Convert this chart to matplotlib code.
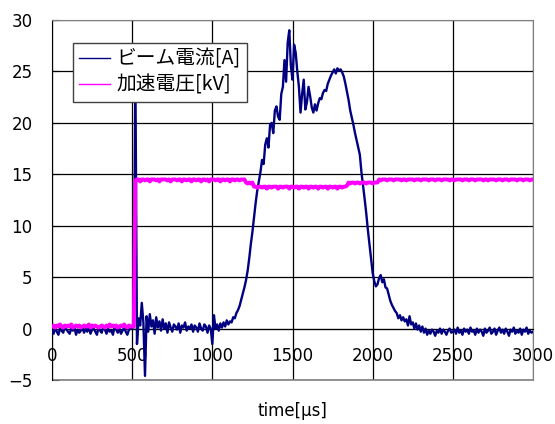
import numpy as np
import matplotlib as mpl
mpl.use('Agg')
import matplotlib.pyplot as plt
from matplotlib.patches import Rectangle

# Global style
mpl.rcParams['font.family'] = ['Noto Sans CJK JP', 'DejaVu Sans']
mpl.rcParams['font.size'] = 12
mpl.rcParams['axes.unicode_minus'] = True

colors = ['#000080', '#ff00ff']

# time axis: one sample every 10 us, 0..3000
time_us = np.arange(0, 3001, 10)

# beam current [A] (one row = 100 us)
beam_current = [
    -0.2, -0.5, 0.1, -0.3, -0.6, 0.0, -0.2, -0.4, 0.2, -0.1,      # 0
    -0.3, -0.5, 0.0, -0.2, 0.1, -0.6, -0.1, -0.4, -0.2, 0.1,      # 100
    -0.4, 0.0, -0.3, 0.2, -0.5, -0.1, 0.0, -0.3, -0.6, 0.1,       # 200
    -0.2, -0.4, 0.2, -0.1, -0.5, 0.0, -0.3, -0.2, -0.6, 0.2,      # 300
    -0.1, -0.4, 0.0, -0.5, -0.2, 0.1, -0.3, -0.6, -0.1, 0.0,      # 400
    0.2, 0.1, 25.0, -1.5, 1.0, 0.3, 2.5, 0.6, -4.6, 1.2,          # 500
    -0.3, 1.4, 0.2, 0.8, -0.5, 1.1, 0.1, 0.7, -0.2, 0.9,          # 600
    0.0, 0.5, -0.4, 0.6, 0.1, -0.3, 0.4, 0.2, -0.1, 0.5,          # 700
    -0.4, 0.3, 0.1, 0.6, -0.2, 0.2, 0.0, 0.4, -0.3, 0.3,          # 800
    0.1, -0.3, 0.5, 0.0, -0.2, 0.4, 0.2, -0.4, 0.3, 0.0,          # 900
    -1.5, 1.3, 0.0, 0.4, -0.2, 0.5, 0.1, 0.6, 0.2, 0.8,           # 1000
    0.4, 0.7, 0.6, 1.1, 1.0, 1.5, 1.8, 2.2, 2.8, 3.4,             # 1100
    4.0, 4.7, 5.6, 6.8, 8.2, 9.4, 10.8, 12.2, 13.4, 14.3,         # 1200
    15.2, 16.4, 16.0, 17.9, 18.5, 17.6, 19.8, 20.0, 19.0, 21.2,   # 1300
    21.6, 20.6, 20.3, 22.8, 23.5, 26.1, 24.0, 27.8, 29.0, 25.5,   # 1400
    24.2, 27.6, 26.8, 25.0, 23.5, 21.0, 22.8, 24.2, 21.3, 22.0,   # 1500
    23.5, 22.6, 21.5, 21.0, 21.8, 21.2, 21.9, 22.4, 22.3, 22.9,   # 1600
    23.2, 23.1, 23.8, 24.2, 24.6, 24.9, 25.2, 24.8, 25.3, 25.1,   # 1700
    25.2, 24.9, 24.5, 23.8, 23.0, 22.2, 21.2, 20.5, 19.8, 19.0,   # 1800
    18.3, 17.6, 16.9, 15.2, 13.9, 12.6, 11.2, 9.6, 8.2, 6.8,      # 1900
    5.4, 4.6, 4.1, 4.3, 4.9, 5.2, 4.5, 4.8, 4.0, 3.9,             # 2000
    3.3, 2.7, 2.3, 2.0, 1.7, 1.5, 1.0, 1.3, 0.8, 1.1,             # 2100
    0.7, 0.9, 0.3, 1.2, 0.4, 0.6, 0.0, 0.5, -0.1, 0.3,            # 2200
    -0.3, 0.2, -0.4, 0.0, -0.6, -0.2, -0.5, -0.1, -0.3, -0.7,     # 2300
    -0.2, -0.4, 0.0, -0.5, -0.1, -0.3, -0.6, -0.2, 0.0, -0.4,     # 2400
    -0.3, -0.1, -0.5, 0.1, -0.4, -0.2, -0.6, 0.0, -0.3, -0.1,     # 2500
    -0.5, 0.1, -0.3, -0.2, -0.6, 0.0, -0.4, -0.1, -0.3, -0.7,     # 2600
    0.0, -0.4, -0.2, 0.1, -0.5, -0.3, 0.0, -0.6, -0.2, 0.1,       # 2700
    -0.4, -0.1, -0.5, 0.0, -0.3, -0.7, -0.1, -0.3, 0.1, -0.5,     # 2800
    -0.2, -0.4, 0.0, -0.6, -0.1, -0.3, 0.1, -0.5, -0.2, -0.4,     # 2900
    -0.3,                                                         # 3000
]

# acceleration voltage [kV]
accel_voltage = [
    0.2, 0.3, 0.1, 0.3, 0.2, 0.4, 0.2, 0.1, 0.3, 0.2,             # 0
    0.3, 0.2, 0.4, 0.1, 0.2, 0.3, 0.2, 0.3, 0.1, 0.2,             # 100
    0.3, 0.2, 0.2, 0.4, 0.1, 0.3, 0.2, 0.3, 0.2, 0.1,             # 200
    0.2, 0.3, 0.2, 0.1, 0.3, 0.2, 0.4, 0.2, 0.3, 0.2,             # 300
    0.3, 0.1, 0.2, 0.3, 0.2, 0.4, 0.2, 0.1, 0.3, 0.2,             # 400
    0.2, 0.2, 14.4, 14.5, 14.5, 14.3, 14.5, 14.5, 14.4, 14.5,     # 500
    14.5, 14.3, 14.5, 14.5, 14.5, 14.4, 14.5, 14.3, 14.5, 14.5,   # 600
    14.5, 14.5, 14.4, 14.5, 14.3, 14.5, 14.5, 14.5, 14.4, 14.5,   # 700
    14.5, 14.3, 14.5, 14.5, 14.4, 14.5, 14.5, 14.3, 14.5, 14.5,   # 800
    14.4, 14.5, 14.5, 14.3, 14.5, 14.5, 14.4, 14.5, 14.3, 14.5,   # 900
    14.5, 14.5, 14.4, 14.5, 14.5, 14.3, 14.5, 14.5, 14.4, 14.5,   # 1000
    14.5, 14.3, 14.5, 14.5, 14.4, 14.5, 14.5, 14.4, 14.5, 14.5,   # 1100
    14.5, 14.2, 14.1, 14.2, 14.1, 14.2, 13.8, 13.8, 13.7, 13.8,   # 1200
    13.8, 13.7, 13.8, 13.8, 13.6, 13.8, 13.8, 13.7, 13.8, 13.8,   # 1300
    13.8, 13.6, 13.8, 13.8, 13.7, 13.8, 13.8, 13.8, 13.6, 13.8,   # 1400
    13.8, 13.7, 13.8, 13.8, 13.6, 13.8, 13.8, 13.7, 13.8, 13.8,   # 1500
    13.6, 13.8, 13.8, 13.7, 13.8, 13.8, 13.6, 13.8, 13.8, 13.7,   # 1600
    13.8, 13.8, 13.6, 13.8, 13.8, 13.7, 13.8, 13.8, 13.6, 13.8,   # 1700
    13.8, 13.7, 13.8, 13.8, 13.9, 14.2, 14.1, 14.2, 14.2, 14.1,   # 1800
    14.2, 14.2, 14.1, 14.2, 14.2, 14.2, 14.1, 14.2, 14.2, 14.2,   # 1900
    14.1, 14.2, 14.2, 14.2, 14.5, 14.4, 14.5, 14.5, 14.5, 14.4,   # 2000
    14.5, 14.5, 14.5, 14.4, 14.5, 14.5, 14.5, 14.5, 14.4, 14.5,   # 2100
    14.5, 14.4, 14.5, 14.5, 14.5, 14.5, 14.4, 14.5, 14.5, 14.5,   # 2200
    14.4, 14.5, 14.5, 14.5, 14.5, 14.4, 14.5, 14.5, 14.5, 14.4,   # 2300
    14.5, 14.5, 14.5, 14.4, 14.5, 14.5, 14.5, 14.5, 14.4, 14.5,   # 2400
    14.5, 14.4, 14.5, 14.5, 14.5, 14.5, 14.4, 14.5, 14.5, 14.5,   # 2500
    14.4, 14.5, 14.5, 14.5, 14.4, 14.5, 14.5, 14.5, 14.5, 14.4,   # 2600
    14.5, 14.5, 14.4, 14.5, 14.5, 14.5, 14.5, 14.4, 14.5, 14.5,   # 2700
    14.5, 14.4, 14.5, 14.5, 14.5, 14.4, 14.5, 14.5, 14.5, 14.5,   # 2800
    14.4, 14.5, 14.5, 14.5, 14.4, 14.5, 14.5, 14.5, 14.4, 14.5,   # 2900
    14.5,                                                         # 3000
]

labels = ['ビーム電流[A]', '加速電圧[kV]']
x_ticks = np.arange(0, 3001, 500)
y_ticks = np.arange(-5, 31, 5)

fig = plt.figure(figsize=(5.55, 4.24), dpi=100)
ax = fig.add_axes([52 / 555, 44 / 424, 481 / 555, 360 / 424])

ax.plot(time_us, beam_current, color=colors[0], lw=1.7, label=labels[0], zorder=3)
ax.plot(time_us, accel_voltage, color=colors[1], lw=2.8, label=labels[1], zorder=4)

ax.set_xlim(0, 3000)
ax.set_ylim(-5, 30)
ax.set_xticks(x_ticks)
ax.set_yticks(y_ticks)

# Excel-like grid
ax.grid(True, color='black', lw=0.9)
ax.set_axisbelow(True)

# x axis crosses at y = 0
ax.spines['bottom'].set_position(('data', 0))
ax.spines['bottom'].set_color('black')
ax.spines['left'].set_color('black')
for side in ['top', 'right']:
    ax.spines[side].set_color('#808080')
ax.add_patch(Rectangle((0, 0), 1, 0, transform=ax.transAxes, fill=False,
                       edgecolor='#808080', lw=1.2, clip_on=False))

ax.tick_params(axis='x', direction='in', length=0, pad=13)
ax.tick_params(axis='y', direction='in', length=5, pad=14)
for lbl in ax.get_xticklabels() + ax.get_yticklabels():
    lbl.set_fontfamily('DejaVu Sans')
    lbl.set_fontsize(12)

ax.set_xlabel('time[µs]', family='DejaVu Sans', fontsize=12)
ax.xaxis.set_label_coords(0.5, -0.06)

leg = ax.legend(loc='upper left', bbox_to_anchor=(73 / 555, 1 - 43 / 424),
                bbox_transform=fig.transFigure, borderaxespad=0, fancybox=False,
                shadow=False, framealpha=1, edgecolor='#404040',
                handlelength=1.6, handletextpad=0.3, labelspacing=0.25,
                borderpad=0.3, prop={'size': 14.2})
leg.get_frame().set_linewidth(1.0)
for line in leg.get_lines():
    line.set_linewidth(1.0)

plt.savefig('out.png', dpi=100)
